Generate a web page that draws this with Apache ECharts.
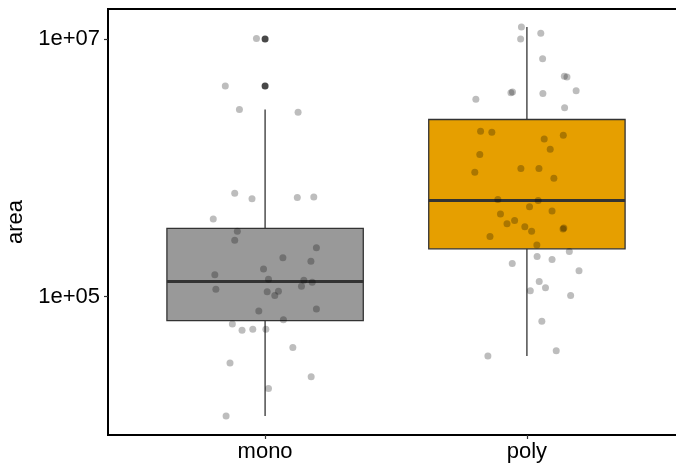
<!DOCTYPE html>
<html>
<head>
<meta charset="utf-8">
<script src="https://cdn.jsdelivr.net/npm/echarts@6/dist/echarts.min.js"></script>
<style>
  html, body { margin: 0; padding: 0; background: #fff; }
  #main { width: 676px; height: 465px; }
</style>
</head>
<body>
<div id="main"></div>
<script>
var categories = ['mono', 'poly'];
var boxColors = ['#999999', '#E69F00'];

// box stats: [lower whisker, Q1, median, Q3, upper whisker]
var monoStats = [11800, 65000, 131000, 338000, 2840000];
var polyStats = [34600, 235000, 556000, 2370000, 12400000];

// boxplot outliers (drawn black)
var monoOutliers = [10000000, 4310000];
var polyOutliers = [];

// jittered observations: area and horizontal jitter offset
var monoArea = [10100000, 4310000, 2840000, 2700000, 634000, 576000, 589000, 593000, 401000, 322000,
  274000, 239000, 200000, 188000, 164000, 148000, 136000, 134000, 129000, 120000,
  114000, 109000, 110000, 102000, 80200, 77400, 66200, 61300, 54700, 55700,
  55700, 40300, 30500, 23800, 19300, 11800];
var monoJitter = [-0.033, -0.152, -0.098, 0.126, -0.116, -0.050, 0.123, 0.186, -0.198, -0.106,
  -0.116, 0.196, 0.068, 0.175, -0.006, -0.192, 0.013, 0.148, 0.180, 0.139,
  -0.188, 0.008, 0.051, 0.037, 0.196, -0.024, 0.070, -0.125, -0.088, -0.047,
  0.003, 0.106, -0.134, 0.176, 0.013, -0.149];

var polyArea = [12400000, 11100000, 10000000, 7030000, 5130000, 5060000, 3960000, 3820000, 3870000, 3780000,
  3400000, 2920000, 1920000, 1890000, 1790000, 1670000, 1390000, 1270000, 923000, 986000,
  986000, 828000, 566000, 556000, 499000, 461000, 437000, 390000, 368000, 349000,
  321000, 334000, 340000, 293000, 251000, 224000, 205000, 194000, 181000, 159000,
  131000, 117000, 111000, 102000, 64300, 38000, 34600];
var polyJitter = [-0.021, 0.053, -0.024, 0.060, 0.143, 0.153, 0.188, -0.061, -0.055, 0.061,
  -0.195, 0.144, -0.177, -0.134, 0.139, 0.066, 0.089, -0.180, -0.199, -0.023,
  0.046, 0.103, -0.111, 0.043, 0.010, 0.096, -0.101, -0.047, -0.076, -0.008,
  0.018, 0.138, 0.141, -0.141, 0.038, 0.162, 0.039, 0.096, -0.056, 0.199,
  0.047, 0.071, 0.013, 0.167, 0.057, 0.112, -0.149];

var yTickExps = [5, 7];
var yTickLabels = ['1e+05', '1e+07'];

var log = function (v) { return Math.log10(v); };

var boxData = [monoStats, polyStats].map(function (s, i) {
  return [i + 1].concat(s.map(log));
});

var outlierData = [];
[monoOutliers, polyOutliers].forEach(function (arr, i) {
  arr.forEach(function (v) { outlierData.push([i + 1, log(v)]); });
});

var jitterData = [];
monoArea.forEach(function (v, k) { jitterData.push([1 + monoJitter[k], log(v)]); });
polyArea.forEach(function (v, k) { jitterData.push([2 + polyJitter[k], log(v)]); });

var halfBox = 0.375;
var lineColor = '#333333';
var font = 'Liberation Sans, Arial, Helvetica, sans-serif';

function renderBox(params, api) {
  var x = api.value(0);
  var lo = api.coord([x, api.value(1)]);
  var q1 = api.coord([x, api.value(2)]);
  var q3 = api.coord([x, api.value(4)]);
  var hi = api.coord([x, api.value(5)]);
  var m = api.coord([x, api.value(3)]);
  var left = api.coord([x - halfBox, api.value(3)])[0];
  var right = api.coord([x + halfBox, api.value(3)])[0];
  return {
    type: 'group',
    children: [
      { type: 'line', shape: { x1: hi[0], y1: hi[1], x2: q3[0], y2: q3[1] },
        style: { stroke: lineColor, lineWidth: 1.3 } },
      { type: 'line', shape: { x1: q1[0], y1: q1[1], x2: lo[0], y2: lo[1] },
        style: { stroke: lineColor, lineWidth: 1.3 } },
      { type: 'rect', shape: { x: left, y: q3[1], width: right - left, height: q1[1] - q3[1] },
        style: { fill: boxColors[params.dataIndex], stroke: lineColor, lineWidth: 1.3 } },
      { type: 'line', shape: { x1: left, y1: m[1], x2: right, y2: m[1] },
        style: { stroke: lineColor, lineWidth: 3 } }
    ]
  };
}

var myChart = echarts.init(document.getElementById('main'));

option = {
  backgroundColor: '#ffffff',
  animation: false,
  grid: {
    left: 108,
    top: 9,
    width: 576,
    bottom: 30,
    outerBoundsMode: 'none',
    show: true,
    borderColor: '#000',
    borderWidth: 2,
    backgroundColor: 'transparent'
  },
  xAxis: {
    type: 'value',
    min: 0.4,
    max: 2.6,
    axisLine: { show: false },
    splitLine: { show: false },
    axisTick: {
      show: true,
      customValues: [1, 2],
      length: 4,
      lineStyle: { color: lineColor, width: 1.2 }
    },
    axisLabel: {
      customValues: [1, 2],
      formatter: function (v) { return categories[Math.round(v) - 1]; },
      color: '#000',
      fontSize: 22,
      fontFamily: font,
      margin: 6
    }
  },
  yAxis: {
    type: 'value',
    min: 3.925,
    max: 7.233,
    name: 'area',
    nameLocation: 'middle',
    nameGap: 74,
    nameTextStyle: { color: '#000', fontSize: 22, fontFamily: font },
    axisLine: { show: false },
    splitLine: { show: false },
    axisTick: {
      show: true,
      customValues: yTickExps,
      length: 4,
      lineStyle: { color: lineColor, width: 1.2 }
    },
    axisLabel: {
      customValues: yTickExps,
      formatter: function (v) { return yTickLabels[yTickExps.indexOf(Math.round(v))]; },
      color: '#000',
      fontSize: 22,
      fontFamily: font,
      margin: 8
    }
  },
  series: [
    {
      type: 'custom',
      renderItem: renderBox,
      data: boxData,
      encode: { x: 0, y: [1, 2, 3, 4, 5] },
      z: 1
    },
    {
      type: 'scatter',
      data: outlierData,
      symbolSize: 7,
      itemStyle: { color: '#1a1a1a' },
      z: 2
    },
    {
      type: 'scatter',
      data: jitterData,
      symbolSize: 7,
      itemStyle: { color: 'rgba(0,0,0,0.32)' },
      z: 3
    }
  ]
};
myChart.setOption(option);
</script>
</body>
</html>
